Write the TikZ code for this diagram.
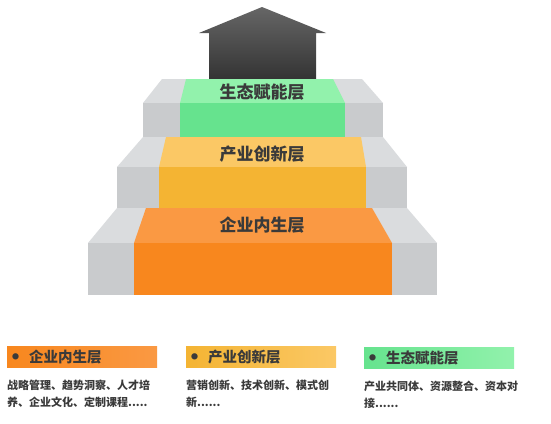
\documentclass[tikz,border=0pt]{standalone}
\usepackage{fontspec}
\newfontfamily\cjk{Noto Sans CJK SC}
\usepackage{tikz}
\usetikzlibrary{positioning}
\usepackage{xcolor}

\definecolor{sidetop}{HTML}{DADCDE}
\definecolor{sidefront}{HTML}{C9CBCD}
\definecolor{greentop}{HTML}{92F2AC}
\definecolor{greenfront}{HTML}{66E38E}
\definecolor{yellowtop}{HTML}{FBC865}
\definecolor{yellowfront}{HTML}{F4B433}
\definecolor{orangetop}{HTML}{FA9943}
\definecolor{orangefront}{HTML}{F8871E}
\definecolor{inkgrey}{HTML}{3A3A3A}

\newcommand{\legenddot}{\raisebox{3pt}{\fontsize{7}{7}\selectfont ●}}

\begin{document}
\begin{tikzpicture}[
    x=1pt,y=-1pt,
  steplabel/.style={font=\cjk\bfseries\fontsize{17}{17}\selectfont,text=inkgrey,inner sep=0pt},
  legendbox/.style={anchor=north west,minimum width=150pt,minimum height=21pt,
    text width=140pt,align=left,inner sep=0pt,inner xsep=5pt,
    font=\cjk\bfseries\fontsize{14.5}{14.5}\selectfont,text=inkgrey},
  legendtext/.style={below right=12pt and 0pt of #1.south west,anchor=north west,
    align=left,inner sep=0pt,
    font=\cjk\bfseries\fontsize{11}{17}\selectfont,text=inkgrey},
]

  \useasboundingbox (0,0) rectangle (551,423);

  % arrow on top
  \shade[top color=black!60,bottom color=black!80]
    (262,7) -- (326,33) -- (316,33) -- (316,80) -- (209,80) -- (209,33) -- (199,33) -- cycle;

  % top step
  \fill[sidetop] (162,79) -- (362,79) -- (383,103) -- (143,103) -- cycle;
  \fill[sidefront] (143,103) rectangle (383,137);
  \fill[greentop] (186,79) -- (333,79) -- (345,103) -- (180,103) -- cycle;
  \fill[greenfront] (180,103) rectangle (345,137);

  % middle step
  \fill[sidetop] (143,137) -- (383,137) -- (407,167) -- (117,167) -- cycle;
  \fill[sidefront] (117,167) rectangle (407,208);
  \fill[yellowtop] (166,137) -- (361,137) -- (366,167) -- (159,167) -- cycle;
  \fill[yellowfront] (159,167) rectangle (366,208);

  % bottom step
  \fill[sidetop] (117,208) -- (407,208) -- (437,243) -- (88,243) -- cycle;
  \fill[sidefront] (88,243) rectangle (437,295);
  \fill[orangetop] (146,208) -- (372,208) -- (392,243) -- (134,243) -- cycle;
  \fill[orangefront] (134,243) rectangle (392,295);

  \node[steplabel] (eco) at (262,92) {生态赋能层};
  \node[steplabel] (ind) at (262,154) {产业创新层};
  \node[steplabel] (ent) at (262,225) {企业内生层};

  % legend
  \node[legendbox,left color=orangefront,right color=orangetop] (entL) at (7,346)
    {\legenddot\hspace{10pt}企业内生层};
  \node[legendbox,left color=yellowfront,right color=yellowtop] (indL) at (186,346)
    {\legenddot\hspace{10pt}产业创新层};
  \node[legendbox,left color=greenfront,right color=greentop] (ecoL) at (364,347)
    {\legenddot\hspace{10pt}生态赋能层};

  \node[legendtext=entL] (entT) {战略管理、趋势洞察、人才培\\养、企业文化、定制课程.....};
  \node[legendtext=indL] (indT) {营销创新、技术创新、模式创\\新......};
  \node[legendtext=ecoL] (ecoT) {产业共同体、资源整合、资本对\\接......};
\end{tikzpicture}
\end{document}
